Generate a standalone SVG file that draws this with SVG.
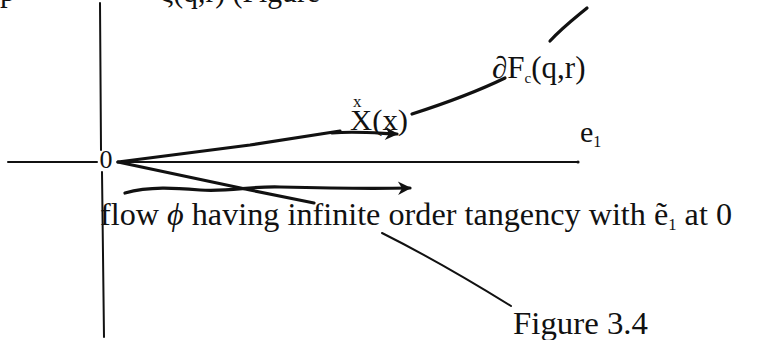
<svg xmlns="http://www.w3.org/2000/svg" width="760" height="340" viewBox="0 0 760 340">
<style>
  text { font-family: "Liberation Serif", "Times New Roman", serif; fill: #111; }
  .ln { fill: none; stroke: #111; stroke-width: 2; stroke-linecap: round; }
  .bold { fill: none; stroke: #111; stroke-width: 3.2; stroke-linecap: round; stroke-linejoin: round; }
</style>
<defs>
  <marker id="arr" viewBox="0 0 12 12" refX="10" refY="6" markerWidth="5" markerHeight="5" orient="auto" markerUnits="strokeWidth">
    <path d="M1,1 L11,6 L1,11 L4,6 Z" fill="#111"/>
  </marker>
</defs>

<g id="top-text">
  <text x="0" y="1" font-size="31">p</text>
  <text x="160" y="2" font-size="31" textLength="160" lengthAdjust="spacingAndGlyphs">ξ(q,r) (Figure</text>
</g>

<g id="connectors">
  <path class="ln" d="M100,3 L101,150"/>
  <path class="ln" d="M102,172 L104,337"/>
  <path class="ln" d="M8,162 L97,162"/>
  <path class="ln" d="M118,162 L578,162"/>
  <circle cx="578" cy="162" r="1.6" fill="#111"/>
  <path class="bold" d="M118,162 L250,145 L340,131"/>
  <path class="bold" d="M332,133 C355,131 375,133 397,134" marker-end="url(#arr)"/>
  <path class="bold" d="M118,162 L250,190 L314,203" stroke-width="2.6"/>
  <path class="ln" d="M382,233 Q440,262 511,306" stroke-width="2.4"/>
  <path class="bold" d="M125,193 C150,186 175,188 200,190 C230,192 250,186 280,187 C320,188 360,189 410,188" marker-end="url(#arr)"/>
  <path class="bold" d="M412,114 C440,105 470,95 505,78" stroke-width="2.6"/>
  <path class="bold" d="M550,41 C562,28 575,18 587,8" stroke-width="2.6"/>
</g>

<g id="origin">
  <text x="106" y="168" font-size="26" text-anchor="middle">0</text>
</g>

<g id="label-e1">
  <text x="580" y="142" font-size="30">e<tspan font-size="16" dy="5">1</tspan></text>
</g>

<g id="label-dF">
  <text x="492" y="78" font-size="31">∂F<tspan font-size="15" dy="5">c</tspan><tspan dy="-5">(q,r)</tspan></text>
</g>

<g id="label-X">
  <text x="353" y="107" font-size="17">x</text>
  <text x="350" y="130" font-size="29" textLength="58" lengthAdjust="spacingAndGlyphs">X(x)</text>
</g>

<g id="label-flow">
  <text x="100" y="225" font-size="31" textLength="632" lengthAdjust="spacingAndGlyphs">flow <tspan font-style="italic">ϕ</tspan> having infinite order tangency with ẽ<tspan font-size="16" dy="5">1</tspan><tspan dy="-5"> at 0</tspan></text>
</g>

<g id="label-figure">
  <text x="513" y="334" font-size="31" textLength="135" lengthAdjust="spacingAndGlyphs">Figure 3.4</text>
</g>
</svg>
